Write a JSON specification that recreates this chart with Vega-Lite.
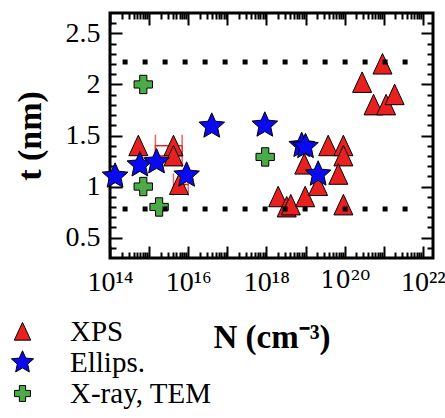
{
  "$schema": "https://vega.github.io/schema/vega-lite/v6.json",
  "width": 323,
  "height": 245,
  "autosize": "none",
  "padding": {"left": 110, "top": 13, "right": 12, "bottom": 160},
  "config": {
    "view": {"stroke": "black", "strokeWidth": 3},
    "font": "Liberation Serif",
    "axis": {
      "domain": false,
      "ticks": false,
      "grid": true,
      "gridColor": "black",
      "gridWidth": 2,
      "gridOpacity": 1,
      "gridCap": "butt",
      "labelColor": "black",
      "labelFont": "Liberation Serif",
      "labelFontSize": 28,
      "labelOverlap": false,
      "labelFlush": false,
      "labelBound": false,
      "titleColor": "black",
      "titleFont": "Liberation Serif",
      "titleFontWeight": "bold"
    },
    "legend": {
      "orient": "none",
      "legendX": -102,
      "legendY": 304,
      "title": null,
      "labelFont": "Liberation Serif",
      "labelFontSize": 29,
      "labelColor": "black",
      "symbolSize": 300,
      "symbolStrokeColor": "black",
      "symbolStrokeWidth": 1,
      "labelOffset": 33,
      "rowPadding": 1
    }
  },
  "datasets": {
    "points": [
      {"N": 5.3e14, "t": 1.4, "method": "XPS"},
      {"N": 4.2e15, "t": 1.4, "method": "XPS"},
      {"N": 4.2e15, "t": 1.3, "method": "XPS"},
      {"N": 5.8e15, "t": 1.02, "method": "XPS"},
      {"N": 2.0e18, "t": 0.9, "method": "XPS"},
      {"N": 3.3e18, "t": 0.8, "method": "XPS"},
      {"N": 4.2e18, "t": 0.82, "method": "XPS"},
      {"N": 9.8e18, "t": 0.9, "method": "XPS"},
      {"N": 9.3e18, "t": 1.22, "method": "XPS"},
      {"N": 2.1e19, "t": 1.01, "method": "XPS"},
      {"N": 3.8e19, "t": 1.4, "method": "XPS"},
      {"N": 9.3e19, "t": 1.4, "method": "XPS"},
      {"N": 9.3e19, "t": 1.3, "method": "XPS"},
      {"N": 6.9e19, "t": 1.12, "method": "XPS"},
      {"N": 9.3e19, "t": 0.82, "method": "XPS"},
      {"N": 2.8e20, "t": 2.02, "method": "XPS"},
      {"N": 9.3e20, "t": 2.2, "method": "XPS"},
      {"N": 5.5e20, "t": 1.8, "method": "XPS"},
      {"N": 1.15e21, "t": 1.8, "method": "XPS"},
      {"N": 1.9e21, "t": 1.9, "method": "XPS"},
      {"N": 1.35e14, "t": 1.1, "method": "Ellips."},
      {"N": 5.8e14, "t": 1.21, "method": "Ellips."},
      {"N": 1.55e15, "t": 1.24, "method": "Ellips."},
      {"N": 9.1e15, "t": 1.11, "method": "Ellips."},
      {"N": 4.0e16, "t": 1.59, "method": "Ellips."},
      {"N": 9.1e17, "t": 1.6, "method": "Ellips."},
      {"N": 8.0e18, "t": 1.4, "method": "Ellips."},
      {"N": 1.0e19, "t": 1.39, "method": "Ellips."},
      {"N": 2.1e19, "t": 1.12, "method": "Ellips."},
      {"N": 7.1e14, "t": 2.0, "method": "X-ray, TEM"},
      {"N": 7.1e14, "t": 1.0, "method": "X-ray, TEM"},
      {"N": 1.8e15, "t": 0.8, "method": "X-ray, TEM"},
      {"N": 9.3e17, "t": 1.29, "method": "X-ray, TEM"}
    ],
    "errors": [
      {"N": 4.2e15, "t": 1.4, "N_lo": 1.45e15, "N_hi": 7.0e15},
      {"N": 4.2e15, "t": 1.3, "N_lo": 1.45e15, "N_hi": 7.0e15},
      {"N": 5.8e15, "t": 1.02, "N_lo": 4.2e15, "N_hi": 1.0e16}
    ],
    "limits": [{"t": 2.22}, {"t": 0.78}]
  },
  "resolve": {"axis": {"x": "independent", "y": "independent"}},
  "layer": [
    {
      "data": {"name": "errors"},
      "mark": {"type": "rule", "color": "#e82020", "strokeWidth": 1.5},
      "encoding": {
        "x": {
          "field": "N_lo",
          "type": "quantitative",
          "scale": {"type": "log", "domain": [1e14, 1.82e22], "nice": false},
          "title": "N (cm⁻³)",
          "axis": {
            "orient": "bottom",
            "grid": true,
            "values": [1e14, 1e15, 1e16, 1e17, 1e18, 1e19, 1e20, 1e21, 1e22],
            "gridDash": [12, 221, 12, 1000],
            "labelExpr": "datum.value == 1e14 ? '10¹⁴' : datum.value == 1e16 ? '10¹⁶' : datum.value == 1e18 ? '10¹⁸' : datum.value == 1e20 ? '10²⁰' : datum.value == 1e22 ? '10²²' : ''",
            "labelFont": {"condition": {"test": "datum.value == 1e20", "value": "DejaVu Serif"}, "value": "Liberation Serif"},
            "labelFontSize": {"condition": {"test": "datum.value == 1e20", "value": 24}, "value": 28},
            "labelPadding": 10,
            "titleFontSize": 33,
            "titlePadding": 25
          }
        },
        "x2": {"field": "N_hi"},
        "y": {
          "field": "t",
          "type": "quantitative",
          "scale": {"domain": [0.3, 2.7], "nice": false, "zero": false},
          "title": "t (nm)",
          "axis": {
            "orient": "left",
            "grid": true,
            "values": [0.5, 1.0, 1.5, 2.0, 2.5],
            "gridDash": [12, 299, 12, 1000],
            "labelExpr": "toString(datum.value)",
            "labelPadding": 10,
            "titleFontSize": 34,
            "titlePadding": 18
          }
        }
      }
    },
    {
      "data": {"name": "errors"},
      "mark": {"type": "tick", "orient": "vertical", "color": "#e82020", "thickness": 1.5, "size": 22},
      "encoding": {
        "x": {"field": "N_lo", "type": "quantitative", "axis": null},
        "y": {"field": "t", "type": "quantitative", "axis": null}
      }
    },
    {
      "data": {"name": "errors"},
      "mark": {"type": "tick", "orient": "vertical", "color": "#e82020", "thickness": 1.5, "size": 22},
      "encoding": {
        "x": {"field": "N_hi", "type": "quantitative", "axis": null},
        "y": {"field": "t", "type": "quantitative", "axis": null}
      }
    },
    {
      "data": {"name": "points"},
      "mark": {"type": "point", "filled": true, "opacity": 1, "size": 400, "stroke": "black", "strokeWidth": 1},
      "encoding": {
        "x": {
          "field": "N",
          "type": "quantitative",
          "axis": {
            "orient": "top",
            "grid": true,
            "labels": false,
            "title": null,
            "values": [2e14, 3e14, 4e14, 5e14, 6e14, 7e14, 8e14, 9e14, 2e15, 3e15, 4e15, 5e15, 6e15, 7e15, 8e15, 9e15, 2e16, 3e16, 4e16, 5e16, 6e16, 7e16, 8e16, 9e16, 2e17, 3e17, 4e17, 5e17, 6e17, 7e17, 8e17, 9e17, 2e18, 3e18, 4e18, 5e18, 6e18, 7e18, 8e18, 9e18, 2e19, 3e19, 4e19, 5e19, 6e19, 7e19, 8e19, 9e19, 2e20, 3e20, 4e20, 5e20, 6e20, 7e20, 8e20, 9e20, 2e21, 3e21, 4e21, 5e21, 6e21, 7e21, 8e21, 9e21],
            "gridDash": [6, 233, 6, 1000]
          }
        },
        "y": {
          "field": "t",
          "type": "quantitative",
          "axis": {
            "orient": "right",
            "grid": true,
            "labels": false,
            "title": null,
            "values": [0.4, 0.6, 0.7, 0.8, 0.9, 1.1, 1.2, 1.3, 1.4, 1.6, 1.7, 1.8, 1.9, 2.1, 2.2, 2.3, 2.4, 2.6],
            "gridDash": [6, 311, 6, 1000]
          }
        },
        "shape": {
          "field": "method",
          "type": "nominal",
          "scale": {
            "domain": ["XPS", "Ellips.", "X-ray, TEM"],
            "range": [
              "M0,-1.05L0.95,1L-0.95,1Z",
              "M0,-1.35L0.37,-0.51L1.28,-0.42L0.6,0.19L0.79,1.09L0,0.63L-0.79,1.09L-0.6,0.19L-1.28,-0.42L-0.37,-0.51Z",
              "M-0.36,-0.92L0.36,-0.92L0.36,-0.36L0.92,-0.36L0.92,0.36L0.36,0.36L0.36,0.92L-0.36,0.92L-0.36,0.36L-0.92,0.36L-0.92,-0.36L-0.36,-0.36Z"
            ]
          }
        },
        "color": {
          "field": "method",
          "type": "nominal",
          "scale": {"domain": ["XPS", "Ellips.", "X-ray, TEM"], "range": ["#e82020", "#0a0af0", "#4caa48"]}
        }
      }
    },
    {
      "data": {"name": "limits"},
      "mark": {"type": "rule", "color": "black", "strokeWidth": 5, "strokeDash": [5, 15], "strokeCap": "butt"},
      "encoding": {
        "x": {"datum": 2.1e14, "type": "quantitative", "axis": null},
        "x2": {"datum": 8.5e21},
        "y": {"field": "t", "type": "quantitative", "axis": null}
      }
    }
  ]
}
